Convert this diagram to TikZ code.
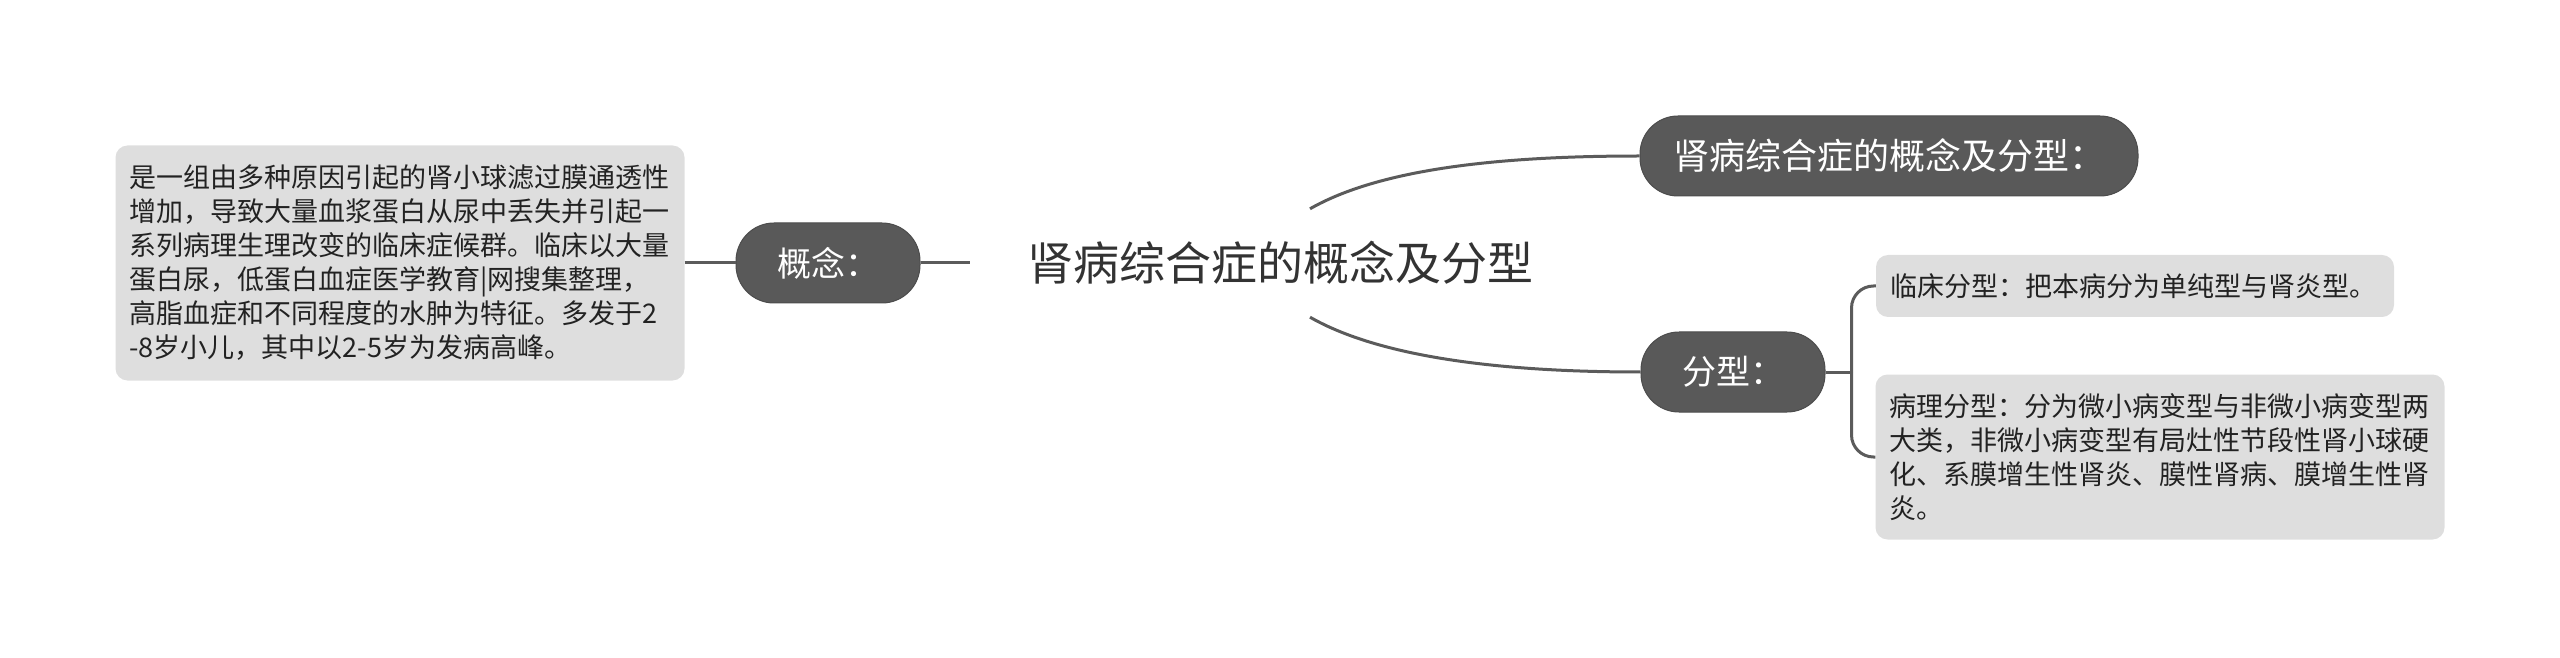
\documentclass[tikz,border=0pt]{standalone}
\usepackage{fontspec}
\setmainfont{Noto Sans CJK SC}

\definecolor{linegray}{HTML}{5B5B5B}
\definecolor{nodegray}{HTML}{595959}
\definecolor{nodeedge}{HTML}{4C4C4C}
\definecolor{notegray}{HTML}{DEDEDE}
\definecolor{textgray}{HTML}{222222}
\definecolor{titlegray}{HTML}{333333}

\begin{document}
\begin{tikzpicture}[x=1pt,y=1pt,-,node distance=452pt,
        link/.style={line width=3pt,draw=linegray},
        main node/.style={font=\fontsize{46}{52}\selectfont,text=titlegray,minimum width=620pt,minimum height=108pt,inner sep=0pt},
        topic node/.style={rounded corners=38pt,fill=nodegray,draw=nodeedge,line width=1pt,text=white,font=\fontsize{34}{40}\selectfont,minimum height=80pt,inner xsep=20pt},
        note node/.style={rounded corners=12pt,fill=notegray,text=textgray,font=\fontsize{27}{34}\selectfont,align=left,inner xsep=14pt,inner ysep=10pt}]

                \useasboundingbox (0,0) rectangle (2560,657);

                \node[main node] (1) at (1280,394) {肾病综合症的概念及分型};
                \node[topic node, minimum width=184pt] (2) [left of = 1] {概念：};
                \node[note node, text width=541pt, minimum height=235pt] (3) [left of = 2, xshift = 24pt] {是一组由多种原因引起的肾小球滤过膜通透性\\增加，导致大量血浆蛋白从尿中丢失并引起一\\系列病理生理改变的临床症候群。临床以大量\\蛋白尿，低蛋白血症医学教育|网搜集整理，\\高脂血症和不同程度的水肿为特征。多发于2\\-8岁小儿，其中以2-5岁为发病高峰。};

                \node[topic node, minimum width=498pt, font=\fontsize{36}{40}\selectfont] (4) [right of = 1, xshift = 157pt, yshift = 107pt] {肾病综合症的概念及分型：};
                \node[topic node, minimum width=184pt] (5) [right of = 1, xshift = 1pt, yshift = -109pt] {分型：};

                \node[note node, text width=490pt, minimum height=62pt] (6) [right of = 5, xshift = -50pt, yshift = 86pt] {临床分型：把本病分为单纯型与肾炎型。};
                \node[note node, text width=541pt, minimum height=165pt] (7) [right of = 5, xshift = -25pt, yshift = -85pt] {病理分型：分为微小病变型与非微小病变型两\\大类，非微小病变型有局灶性节段性肾小球硬\\化、系膜增生性肾炎、膜性肾病、膜增生性肾\\炎。};

                % left side
                \draw[link] (3) to (2);
                \draw[link] (2) to (1);

                % right side
                \draw[link] ([xshift=30pt]1.north) .. controls +(70,40) and +(-140,0) .. (4.west);
                \draw[link] ([xshift=30pt]1.south) .. controls +(70,-40) and +(-140,0) .. (5.west);

                \coordinate (8) at ([xshift=26pt]5.east);
                \draw[link] (5) to (8);
                \draw[link, rounded corners=22pt] (8) |- (6.west);
                \draw[link, rounded corners=22pt] (8) |- (7.west);

                ;
            \end{tikzpicture}
\end{document}
